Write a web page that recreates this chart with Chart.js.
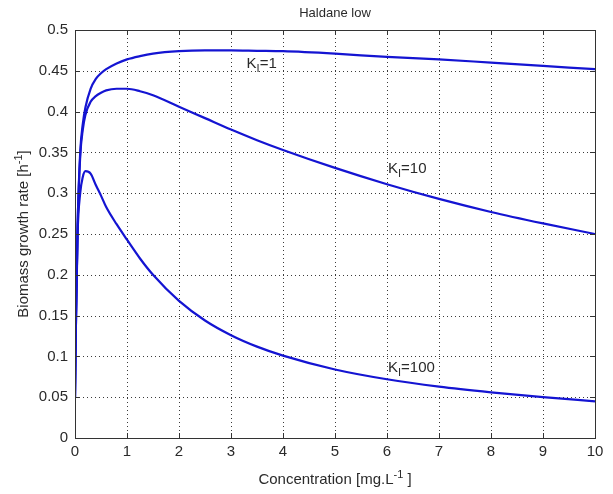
<!DOCTYPE html>
<html>
<head>
<meta charset="utf-8">
<script src="https://cdn.jsdelivr.net/npm/chart.js@4.4.0/dist/chart.umd.min.js"></script>
<style>
  html, body { margin: 0; padding: 0; background: #fff; }
  #wrap { width: 613px; height: 494px; }
</style>
</head>
<body>
<div id="wrap"><canvas id="myChart" width="613" height="494"></canvas></div>
<script>
// concentration (mg/L) and growth rates
var conc = [0, 0.02, 0.05, 0.1, 0.15, 0.2, 0.3, 0.4, 0.5, 0.6, 0.8, 1, 1.25, 1.5, 2, 2.5, 3, 3.5, 4, 5, 6, 7, 8, 9, 10];
var muKi1 = [0.05, 0.15, 0.26, 0.35, 0.385, 0.405, 0.428, 0.44, 0.447, 0.452, 0.459, 0.464, 0.468, 0.471, 0.474, 0.475, 0.475, 0.4745, 0.474, 0.471, 0.467, 0.464, 0.46, 0.456, 0.452];
var muKi10 = [0.05, 0.15, 0.26, 0.345, 0.378, 0.396, 0.412, 0.419, 0.423, 0.426, 0.428, 0.428, 0.425, 0.42, 0.406, 0.392, 0.378, 0.365, 0.353, 0.331, 0.311, 0.293, 0.277, 0.263, 0.25];
var muKi100 = [0.05, 0.15, 0.25, 0.3, 0.32, 0.327, 0.324, 0.31, 0.297, 0.283, 0.262, 0.243, 0.22, 0.2, 0.168, 0.144, 0.126, 0.112, 0.101, 0.084, 0.072, 0.063, 0.056, 0.05, 0.045];

var kiValues = ["1", "10", "100"];
var labelX = [3.3, 6.02, 6.02];
var labelY = [0.454, 0.325, 0.081];

var xTicks = [0, 1, 2, 3, 4, 5, 6, 7, 8, 9, 10];
var yTicks = [0, 0.05, 0.1, 0.15, 0.2, 0.25, 0.3, 0.35, 0.4, 0.45, 0.5];

var lineColor = '#1414d2';
var textColor = '#2a2a2a';

function pts(ys) {
    return conc.map(function (c, i) { return { x: c, y: ys[i] }; });
}

// text with super/subscript pieces: parts = [[text, 'n'|'sup'|'sub'], ...]
function drawRich(ctx, parts, x, y, size, align) {
    var small = Math.round(size * 0.72);
    var w = 0;
    parts.forEach(function (p) {
        ctx.font = (p[1] == 'n' ? size : small) + 'px "Liberation Sans", Arial, sans-serif';
        w += ctx.measureText(p[0]).width;
    });
    var cx = align == 'center' ? x - w / 2 : x;
    parts.forEach(function (p) {
        ctx.font = (p[1] == 'n' ? size : small) + 'px "Liberation Sans", Arial, sans-serif';
        var dy = 0;
        if (p[1] == 'sup') dy = -size * 0.4;
        if (p[1] == 'sub') dy = size * 0.3;
        ctx.fillText(p[0], cx, y + dy);
        cx += ctx.measureText(p[0]).width;
    });
}

var matlabLook = {
    id: 'matlabLook',
    beforeDatasetsDraw: function (chart) {
        var ctx = chart.ctx, a = chart.chartArea;
        var xs = chart.scales.x, ys = chart.scales.y;
        ctx.save();
        ctx.strokeStyle = '#3a3a3a';
        ctx.lineWidth = 1;
        ctx.setLineDash([1, 3]);
        xTicks.forEach(function (v) {
            var px = Math.round(xs.getPixelForValue(v)) + 0.5;
            if (v == 0 || v == 10) return;
            ctx.beginPath(); ctx.moveTo(px, a.top); ctx.lineTo(px, a.bottom); ctx.stroke();
        });
        yTicks.forEach(function (v) {
            var py = Math.round(ys.getPixelForValue(v)) + 0.5;
            if (v == 0 || v == 0.5) return;
            ctx.beginPath(); ctx.moveTo(a.left, py); ctx.lineTo(a.right, py); ctx.stroke();
        });
        ctx.restore();
    },
    afterDraw: function (chart) {
        var ctx = chart.ctx, a = chart.chartArea;
        var xs = chart.scales.x, ys = chart.scales.y;
        ctx.save();
        // box
        ctx.strokeStyle = '#333';
        ctx.lineWidth = 1;
        ctx.strokeRect(Math.round(a.left) + 0.5, Math.round(a.top) + 0.5, Math.round(a.right - a.left), Math.round(a.bottom - a.top));
        // inward ticks
        ctx.beginPath();
        xTicks.forEach(function (v) {
            var px = Math.round(xs.getPixelForValue(v)) + 0.5;
            ctx.moveTo(px, a.bottom); ctx.lineTo(px, a.bottom - 5);
            ctx.moveTo(px, a.top); ctx.lineTo(px, a.top + 5);
        });
        yTicks.forEach(function (v) {
            var py = Math.round(ys.getPixelForValue(v)) + 0.5;
            ctx.moveTo(a.left, py); ctx.lineTo(a.left + 5, py);
            ctx.moveTo(a.right, py); ctx.lineTo(a.right - 5, py);
        });
        ctx.stroke();

        ctx.fillStyle = textColor;
        ctx.textBaseline = 'alphabetic';
        ctx.textAlign = 'left';
        // title
        drawRich(ctx, [['Haldane low', 'n']], (a.left + a.right) / 2, 17, 13, 'center');
        // x axis title
        drawRich(ctx, [['Concentration [mg.L', 'n'], ['-1', 'sup'], [' ]', 'n']], (a.left + a.right) / 2, 484, 15, 'center');
        // y axis title
        ctx.save();
        ctx.translate(28, (a.top + a.bottom) / 2);
        ctx.rotate(-Math.PI / 2);
        drawRich(ctx, [['Biomass growth rate [h', 'n'], ['-1', 'sup'], [']', 'n']], 0, 0, 15, 'center');
        ctx.restore();
        // curve labels
        kiValues.forEach(function (k, i) {
            var px = xs.getPixelForValue(labelX[i]);
            var py = ys.getPixelForValue(labelY[i]);
            drawRich(ctx, [['K', 'n'], ['I', 'sub'], ['=' + k, 'n']], px, py, 15, 'left');
        });
        ctx.restore();
    }
};

var tickFont = { family: '"Liberation Sans", Arial, sans-serif', size: 15 };

new Chart("myChart", {
    type: "line",
    data: {
        datasets: [
            { label: 'KI=1', data: pts(muKi1) },
            { label: 'KI=10', data: pts(muKi10) },
            { label: 'KI=100', data: pts(muKi100) }
        ].map(function (d) {
            d.borderColor = lineColor;
            d.borderWidth = 2.2;
            d.pointRadius = 0;
            d.fill = false;
            d.cubicInterpolationMode = 'monotone';
            return d;
        })
    },
    options: {
        responsive: false,
        animation: false,
        layout: { padding: { top: 30, right: 18, left: 0, bottom: 0 } },
        plugins: {
            legend: { display: false },
            title: { display: false },
            tooltip: { enabled: false }
        },
        scales: {
            x: {
                type: 'linear',
                min: 0, max: 10,
                afterBuildTicks: function (s) { s.ticks = xTicks.map(function (v) { return { value: v }; }); },
                afterFit: function (s) { s.height = 56; },
                grid: { display: false, drawTicks: false },
                border: { display: false },
                ticks: { color: textColor, font: tickFont, padding: 5, maxRotation: 0, autoSkip: false }
            },
            y: {
                min: 0, max: 0.5,
                afterBuildTicks: function (s) { s.ticks = yTicks.map(function (v) { return { value: v }; }); },
                afterFit: function (s) { s.width = 75; },
                grid: { display: false, drawTicks: false },
                border: { display: false },
                ticks: {
                    color: textColor, font: tickFont, padding: 7, autoSkip: false,
                    callback: function (v) { return String(+v.toFixed(2)); }
                }
            }
        }
    },
    plugins: [matlabLook]
});
</script>
</body>
</html>
